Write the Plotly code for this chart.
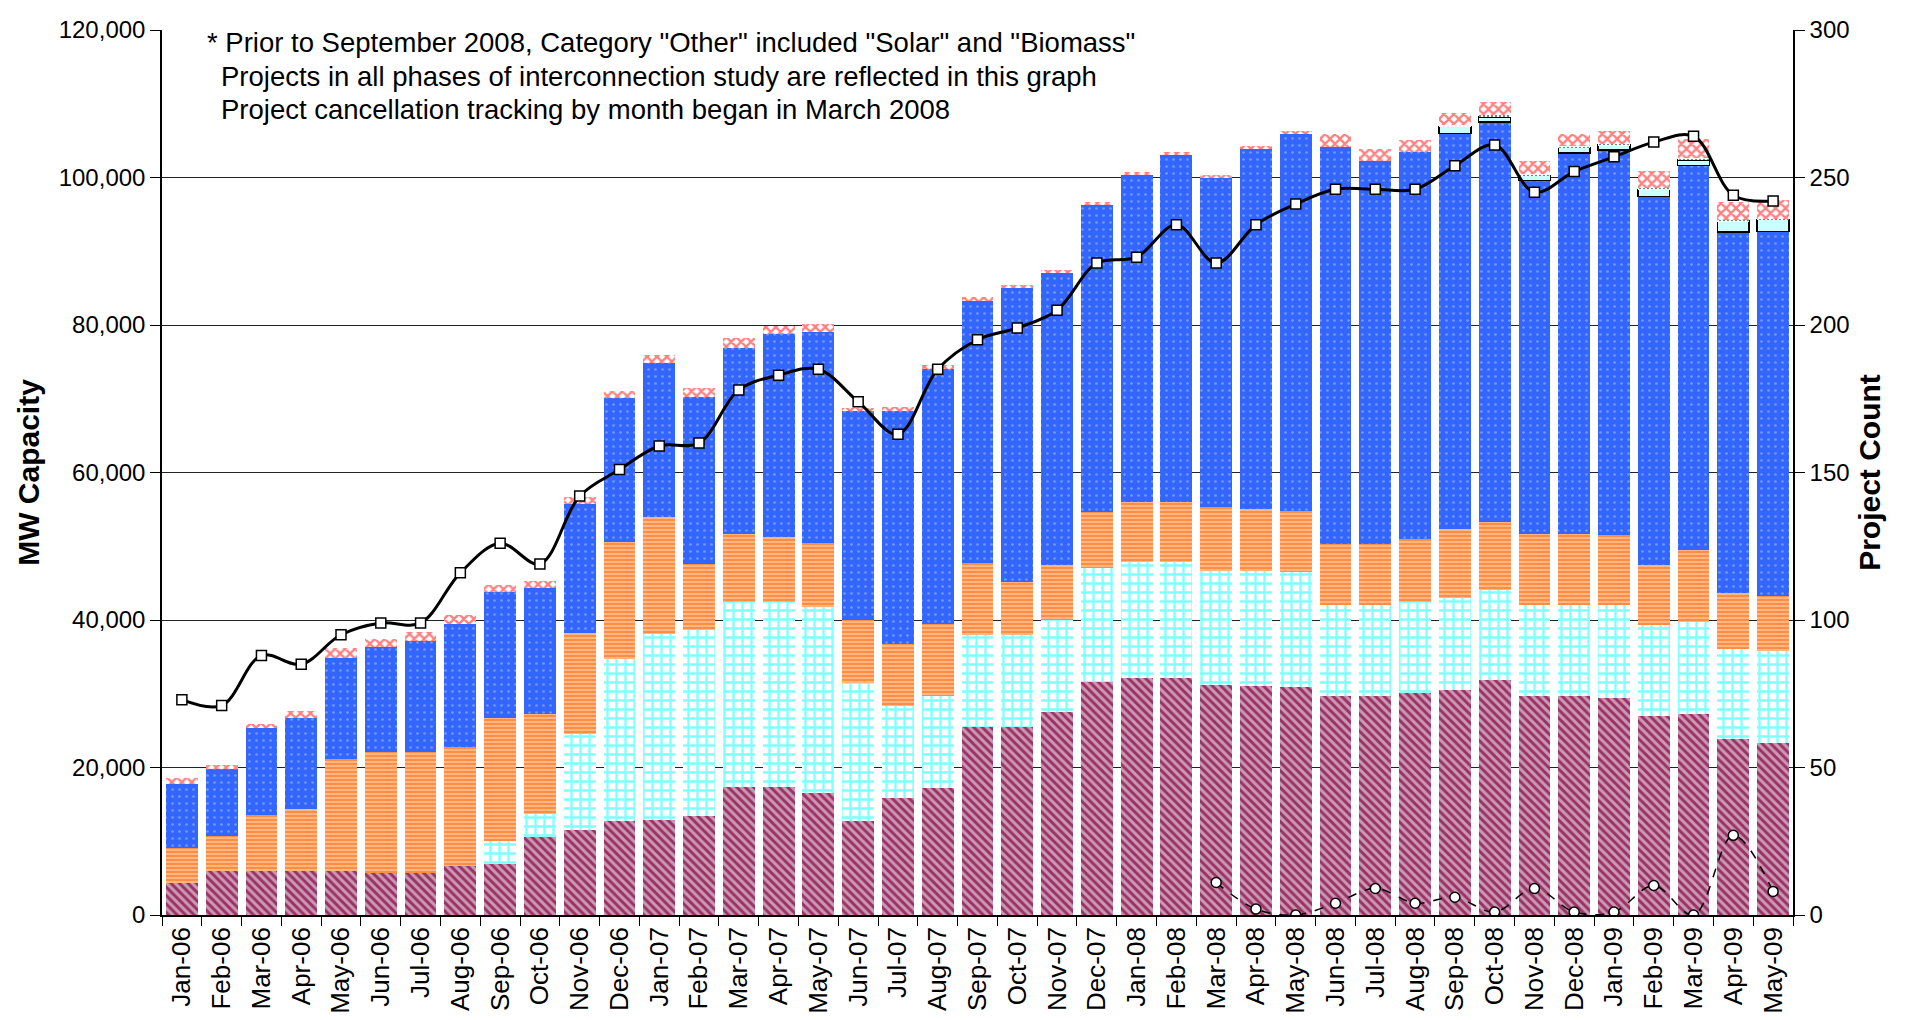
import plotly.graph_objects as go

months = ["Jan-06", "Feb-06", "Mar-06", "Apr-06", "May-06", "Jun-06", "Jul-06", "Aug-06", "Sep-06", "Oct-06", "Nov-06", "Dec-06",
          "Jan-07", "Feb-07", "Mar-07", "Apr-07", "May-07", "Jun-07", "Jul-07", "Aug-07", "Sep-07", "Oct-07", "Nov-07", "Dec-07",
          "Jan-08", "Feb-08", "Mar-08", "Apr-08", "May-08", "Jun-08", "Jul-08", "Aug-08", "Sep-08", "Oct-08", "Nov-08", "Dec-08",
          "Jan-09", "Feb-09", "Mar-09", "Apr-09", "May-09"]

gas = [4300, 6000, 6000, 6000, 6000, 5700, 5700, 6700, 6900, 10600, 11500, 12800,
       12900, 13400, 17300, 17300, 16500, 12800, 15900, 17200, 25500, 25500, 27500, 31600,
       32200, 32200, 31200, 31100, 30900, 29700, 29700, 30100, 30500, 31800, 29700, 29700,
       29400, 27000, 27200, 23800, 23300]
nuclear = [0, 0, 0, 0, 0, 0, 0, 0, 3200, 3100, 13100, 21900,
           25200, 25200, 25100, 25100, 25200, 18700, 12400, 12500, 12400, 12400, 12500, 15500,
           15600, 15600, 15500, 15600, 15600, 12300, 12300, 12400, 12500, 12300, 12300, 12300,
           12700, 12300, 12500, 12300, 12500]
coal = [4800, 4700, 7600, 8400, 15100, 16400, 16400, 16100, 16600, 13500, 13600, 15900,
        15900, 9000, 9200, 8900, 8700, 8500, 8500, 9700, 9800, 7300, 7400, 7600,
        8200, 8200, 8600, 8300, 8300, 8300, 8300, 8500, 9400, 9200, 9600, 9600,
        9400, 8100, 9800, 7600, 7400]
wind = [8700, 9100, 11800, 12300, 13700, 14300, 15000, 16700, 17100, 17100, 17500, 19500,
        20900, 22600, 25300, 27500, 28600, 28300, 31600, 34700, 35600, 39800, 39600, 41600,
        44400, 47000, 44700, 48900, 51100, 53900, 52000, 52500, 53600, 54200, 48000, 51700,
        52200, 50000, 52100, 48900, 49500]
solar = [None] * 32 + [900, 700, 700, 800, 700, 1000, 800, 1500, 1600]
biomass = [None] * 32 + [200, 300, 150, 150, 150, 150, 200, 100, 100]
other = [800, 500, 500, 950, 1400, 1050, 1250, 1200, 1000, 1000, 950, 900,
         1100, 1300, 1300, 1000, 1200, 400, 450, 450, 450, 450, 450, 400,
         400, 400, 400, 400, 450, 1700, 1600, 1600, 1700, 1700, 1800, 1600,
         1800, 2300, 2600, 2500, 2600]

total_projects = [73, 71, 88, 85, 95, 99, 99, 116, 126, 119, 142, 151,
                  159, 160, 178, 183, 185, 174, 163, 185, 195, 199, 205, 221,
                  223, 234, 221, 234, 241, 246, 246, 246, 254, 261, 245, 252,
                  257, 262, 264, 244, 242]
cancelled = [None] * 26 + [11, 2, 0, 4, 9, 4, 6, 1, 9, 1, 1, 10, 0, 27, 8]

notes = ['* Prior to September 2008, Category "Other" included "Solar" and "Biomass"',
         'Projects in all phases of interconnection study are reflected in this graph',
         'Project cancellation tracking by month began in March 2008']

FONT = "Liberation Sans, Arial, sans-serif"

fig = go.Figure()

def bar(name, vals, color, pattern, line=None):
    m = dict(color=color, pattern=pattern)
    m["line"] = line if line else dict(width=0)
    fig.add_trace(go.Bar(name=name, x=months, y=vals, marker=m, showlegend=False))

bar("Gas", gas, "#993366", dict(shape="\\", fgcolor="white", bgcolor="#993366", size=6, solidity=0.5))
bar("Nuclear", nuclear, "white", dict(shape="+", fgcolor="#00FFFF", bgcolor="white", size=9, solidity=0.45))
bar("Coal", coal, "#FFB47F", dict(shape="-", fgcolor="#FF6600", bgcolor="#FFB584", size=4, solidity=0.5))
bar("Wind", wind, "#3366FF", dict(shape=".", fgcolor="#B8C8FF", bgcolor="#3366FF", size=7, solidity=0.12, fillmode="overlay"))
bar("Solar", solar, "#CCFFFF", dict(shape=""), line=dict(color="black", width=1.5))
bar("Biomass", biomass, "white", dict(shape=".", fgcolor="black", bgcolor="white", size=4, solidity=0.3))
bar("Other", other, "white", dict(shape="x", fgcolor="#FF0000", bgcolor="white", size=7, solidity=0.55))

fig.add_trace(go.Scatter(name="Project Count", x=months, y=total_projects, yaxis="y2",
                         mode="lines+markers", line=dict(color="black", width=3, shape="spline", smoothing=1),
                         marker=dict(symbol="square", size=10, color="white", line=dict(color="black", width=1.5)),
                         showlegend=False))
fig.add_trace(go.Scatter(name="Cancelled Projects", x=months, y=cancelled, yaxis="y2",
                         mode="lines+markers", line=dict(color="black", width=1.5, dash="dash", shape="spline", smoothing=1),
                         marker=dict(symbol="circle", size=10, color="white", line=dict(color="black", width=1.5)),
                         showlegend=False))

W, H = 1906, 1020
ml, mr, mt, mb = 154, 121, 22, 113
pw, ph = W - ml - mr, H - mt - mb

def px_x(x):
    return (x - ml) / pw

def px_y(y):
    return 1 - (y - mt) / ph

ann = []
ann.append(dict(text=notes[0], x=px_x(197), y=px_y(34)))
ann.append(dict(text=notes[1], x=px_x(211), y=px_y(68)))
ann.append(dict(text=notes[2], x=px_x(211), y=px_y(101)))
for a in ann:
    a.update(xref="paper", yref="paper", xanchor="left", yanchor="middle", showarrow=False,
             font=dict(family=FONT, size=27.5, color="black"))

fig.update_layout(
    width=W, height=H,
    margin=dict(l=ml, r=mr, t=mt, b=mb, autoexpand=False),
    barmode="stack", bargap=0.2,
    paper_bgcolor="white", plot_bgcolor="white",
    font=dict(family=FONT, color="black"),
    annotations=ann,
    xaxis=dict(type="category", range=[-0.5, len(months) - 0.5], tickangle=-90, tickfont=dict(size=26, family=FONT),
               ticks="outside", ticklen=9, tickcolor="black", tickson="boundaries",
               showline=True, linecolor="black", linewidth=1.5, showgrid=False, automargin=False),
    yaxis=dict(range=[0, 120000], dtick=20000, tickformat=",", tickfont=dict(size=24, family=FONT),
               ticks="outside", ticklen=10, tickcolor="black",
               showline=True, linecolor="black", linewidth=1.5,
               showgrid=True, gridcolor="#222222", gridwidth=1, zeroline=False,
               title=dict(text="<b>MW Capacity</b>", font=dict(size=30, family=FONT), standoff=10),
               automargin=False),
    yaxis2=dict(range=[0, 300], dtick=50, overlaying="y", side="right", tickfont=dict(size=24, family=FONT),
                ticks="outside", ticklen=10, tickcolor="black",
                showline=True, linecolor="black", linewidth=1.5, showgrid=False, zeroline=False,
                title=dict(text="<b>Project Count</b>", font=dict(size=30, family=FONT), standoff=10),
                automargin=False),
)

fig.write_html("out.html")
